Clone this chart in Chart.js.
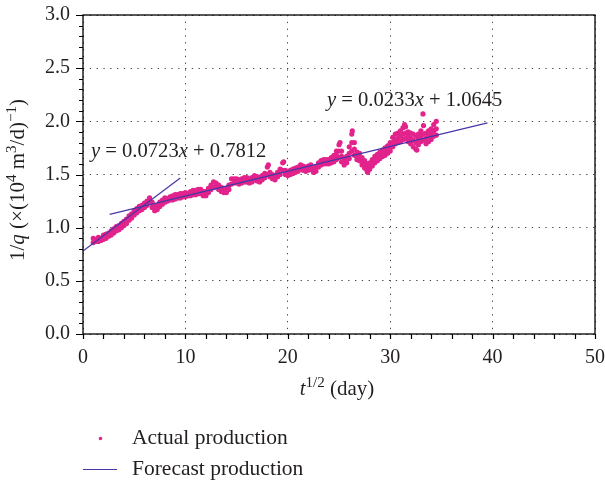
<!DOCTYPE html>
<html>
<head>
<meta charset="utf-8">
<script src="https://cdn.jsdelivr.net/npm/chart.js@4.4.1/dist/chart.umd.min.js"></script>
<style>
html,body{margin:0;padding:0;background:#fff;}
#wrap{width:605px;height:481px;position:relative;}
</style>
</head>
<body>
<div id="wrap"><canvas id="c" width="605" height="481"></canvas></div>
<script>
// ---- Data ----
const xTicks = [0, 10, 20, 30, 40, 50];
const yTicks = [0.0, 0.5, 1.0, 1.5, 2.0, 2.5, 3.0];

const sampleX = [
 1.00,1.25,1.50,1.75, 2.00,2.25,2.50,2.75, 3.00,3.25,3.50,3.75, 4.00,4.25,4.50,4.75,
 5.00,5.25,5.50,5.75, 6.00,6.25,6.50,6.75, 7.00,7.25,7.50,7.75, 8.00,8.25,8.50,8.75,
 9.00,9.25,9.50,9.75, 10.00,10.25,10.50,10.75, 11.00,11.25,11.50,11.75, 12.00,12.25,12.50,12.75,
 13.00,13.25,13.50,13.75, 14.00,14.25,14.50,14.75, 15.00,15.25,15.50,15.75, 16.00,16.25,16.50,16.75,
 17.00,17.25,17.50,17.75, 18.00,18.25,18.50,18.75, 19.00,19.25,19.50,19.75, 20.00,20.25,20.50,20.75,
 21.00,21.25,21.50,21.75, 22.00,22.25,22.50,22.75, 23.00,23.25,23.50,23.75, 24.00,24.25,24.50,24.75,
 25.00,25.25,25.50,25.75, 26.00,26.25,26.50,26.75, 27.00,27.25,27.50,27.75, 28.00,28.25,28.50,28.75,
 29.00,29.25,29.50,29.75, 30.00,30.25,30.50,30.75, 31.00,31.25,31.50,31.75, 32.00,32.25,32.50,32.75,
 33.00,33.25,33.50,33.75, 34.00,34.25,34.50
];
const actualUpper = [
 0.90,0.89,0.91,0.90, 0.93,0.94,0.95,0.97, 0.99,1.01,1.02,1.04, 1.06,1.08,1.11,1.13,
 1.16,1.18,1.20,1.21, 1.23,1.25,1.28,1.24, 1.20,1.21,1.24,1.26, 1.28,1.27,1.29,1.30,
 1.31,1.31,1.32,1.32, 1.33,1.32,1.34,1.35, 1.35,1.36,1.36,1.34, 1.34,1.37,1.40,1.43,
 1.42,1.40,1.38,1.37, 1.37,1.40,1.46,1.46, 1.46,1.45,1.46,1.47, 1.47,1.46,1.47,1.49,
 1.48,1.47,1.49,1.51, 1.57,1.52,1.50,1.49, 1.52,1.55,1.61,1.54, 1.53,1.54,1.55,1.56,
 1.57,1.59,1.58,1.57, 1.58,1.59,1.56,1.57, 1.61,1.63,1.64,1.64, 1.64,1.66,1.68,1.72,
 1.78,1.72,1.65,1.67, 1.76,1.88,1.80,1.71, 1.70,1.66,1.63,1.60, 1.61,1.64,1.67,1.69,
 1.71,1.73,1.75,1.77, 1.80,1.85,1.88,1.89, 1.91,1.94,1.95,1.90, 1.89,1.88,1.86,1.88,
 1.91,1.96,1.89,1.91, 1.93,1.97,2.00
];
const actualLower = [
 0.86,0.87,0.87,0.88, 0.89,0.90,0.92,0.93, 0.95,0.97,0.98,1.00, 1.02,1.04,1.07,1.09,
 1.12,1.14,1.16,1.17, 1.19,1.21,1.24,1.19, 1.16,1.17,1.20,1.22, 1.24,1.25,1.26,1.26,
 1.27,1.28,1.28,1.29, 1.29,1.30,1.30,1.31, 1.31,1.32,1.32,1.30, 1.30,1.33,1.36,1.38,
 1.38,1.36,1.34,1.33, 1.33,1.36,1.41,1.42, 1.42,1.41,1.42,1.43, 1.43,1.42,1.43,1.45,
 1.44,1.43,1.45,1.47, 1.50,1.48,1.46,1.45, 1.48,1.50,1.54,1.50, 1.49,1.50,1.51,1.52,
 1.53,1.55,1.54,1.53, 1.54,1.55,1.52,1.53, 1.57,1.59,1.60,1.60, 1.60,1.61,1.62,1.64,
 1.66,1.62,1.59,1.61, 1.65,1.72,1.68,1.64, 1.63,1.59,1.56,1.53, 1.55,1.58,1.61,1.63,
 1.65,1.67,1.68,1.70, 1.72,1.76,1.79,1.80, 1.81,1.83,1.84,1.81, 1.79,1.76,1.74,1.78,
 1.81,1.82,1.79,1.81, 1.83,1.86,1.87
];
const midX = [
 24.50,24.75, 25.00,25.25,25.50,25.75, 26.00,26.25,26.50,26.75, 27.00,27.25,27.50,27.75,
 28.00,28.25,28.50,28.75, 29.00,29.25,29.50,29.75, 30.00,30.25,30.50,30.75, 31.00,31.25,31.50,31.75,
 32.00,32.25,32.50,32.75, 33.00,33.25,33.50,33.75, 34.00,34.25,34.50
];
const midY = [
 1.65,1.68, 1.72,1.67,1.62,1.64, 1.70,1.80,1.74,1.68, 1.66,1.62,1.59,1.56,
 1.58,1.61,1.64,1.66, 1.68,1.70,1.71,1.73, 1.76,1.80,1.83,1.84, 1.86,1.88,1.89,1.86,
 1.84,1.82,1.80,1.83, 1.86,1.88,1.84,1.86, 1.88,1.91,1.93
];
const outlierX = [26.3, 33.2, 31.4, 32.6, 18.1, 25.1, 27.8, 19.6];
const outlierY = [1.91, 2.07, 1.97, 1.73, 1.59, 1.80, 1.52, 1.62];

// forecast fits: y = slope * x + intercept over [xFrom, xTo]
const fitSlope = [0.0723, 0.0233];
const fitIntercept = [0.7812, 1.0645];
const fitFrom = [0, 2.6];
const fitTo = [9.5, 39.5];

const PINK = '#e2238c';
const BLUE = '#4637a6';
const FONT = '"Liberation Serif", "Times New Roman", serif';
const TXT = '#231f20';

const actualPts = [];
sampleX.forEach((x, i) => { actualPts.push({x, y: actualUpper[i]}); actualPts.push({x, y: actualLower[i]}); });
midX.forEach((x, i) => actualPts.push({x, y: midY[i]}));
outlierX.forEach((x, i) => actualPts.push({x, y: outlierY[i]}));

const fitData = fitSlope.map((m, k) => [
  {x: fitFrom[k], y: m * fitFrom[k] + fitIntercept[k]},
  {x: fitTo[k], y: m * fitTo[k] + fitIntercept[k]}
]);

function fontFor(p, size) {
  const s = p.s ? size * 0.72 : size;
  return (p.i ? 'italic ' : '') + s + 'px ' + FONT;
}
function drawRich(ctx, parts, x, y, size, align) {
  const widths = parts.map(p => { ctx.font = fontFor(p, size); return ctx.measureText(p.t).width; });
  const total = widths.reduce((a, b) => a + b, 0);
  let cx = align === 'center' ? x - total / 2 : x;
  ctx.textAlign = 'left';
  ctx.textBaseline = 'alphabetic';
  parts.forEach((p, i) => {
    ctx.font = fontFor(p, size);
    ctx.fillText(p.t, cx, y + (p.s ? -size * 0.38 : 0));
    cx += widths[i];
  });
}

const decor = {
  id: 'decor',
  afterDraw(chart) {
    const ctx = chart.ctx;
    const a = chart.chartArea;
    const xs = chart.scales.x, ys = chart.scales.y;
    ctx.save();
    // frame
    ctx.strokeStyle = '#000';
    ctx.lineWidth = 1.3;
    ctx.strokeRect(a.left, a.top, a.right - a.left, a.bottom - a.top);
    // x ticks (outward), every 2
    ctx.lineWidth = 1.2;
    ctx.beginPath();
    for (let v = 0; v <= 50; v += 2) {
      const px = Math.round(xs.getPixelForValue(v)) + 0.5;
      ctx.moveTo(px, a.bottom); ctx.lineTo(px, a.bottom + 5);
    }
    // y ticks (outward), every 0.1; major longer
    for (let k = 0; k <= 30; k++) {
      const py = Math.round(ys.getPixelForValue(k / 10)) + 0.5;
      const len = (k % 5 === 0) ? 7 : 4;
      ctx.moveTo(a.left, py); ctx.lineTo(a.left - len, py);
    }
    ctx.stroke();

    ctx.fillStyle = TXT;
    // equations
    drawRich(ctx, [{t:'y', i:1},{t:' = 0.0723'},{t:'x', i:1},{t:' + 0.7812'}], 91, 157, 20.6, 'left');
    drawRich(ctx, [{t:'y', i:1},{t:' = 0.0233'},{t:'x', i:1},{t:' + 1.0645'}], 327, 106, 20.6, 'left');
    // x title
    drawRich(ctx, [{t:'t', i:1},{t:'1/2', s:1},{t:' (day)'}], 337, 395, 21, 'center');
    // y title
    ctx.save();
    ctx.translate(24, 180);
    ctx.rotate(-Math.PI / 2);
    drawRich(ctx, [{t:'1/'},{t:'q', i:1},{t:' (×(10'},{t:'4', s:1},{t:' m'},{t:'3', s:1},{t:'/d)'},{t:'−1', s:1},{t:')'}], 0, 0, 21, 'center');
    ctx.restore();
    // legend
    ctx.fillStyle = PINK;
    ctx.beginPath(); ctx.arc(100.5, 438.5, 1.8, 0, Math.PI * 2); ctx.fill();
    ctx.strokeStyle = BLUE; ctx.lineWidth = 1.2;
    ctx.beginPath(); ctx.moveTo(83, 469.5); ctx.lineTo(117, 469.5); ctx.stroke();
    ctx.fillStyle = TXT;
    ctx.font = '21.5px ' + FONT;
    ctx.textAlign = 'left'; ctx.textBaseline = 'alphabetic';
    ctx.fillText('Actual production', 132, 444);
    ctx.fillText('Forecast production', 132, 475);
    ctx.restore();
  }
};

new Chart(document.getElementById('c'), {
  type: 'scatter',
  plugins: [decor],
  data: {
    datasets: [
      { label: 'Forecast production', type: 'line', data: fitData[0], borderColor: BLUE, borderWidth: 1.2,
        pointRadius: 0, fill: false, order: 0 },
      { label: 'Forecast production 2', type: 'line', data: fitData[1], borderColor: BLUE, borderWidth: 1.2,
        pointRadius: 0, fill: false, order: 0 },
      { label: 'Actual production', data: actualPts, backgroundColor: PINK, borderColor: PINK,
        pointRadius: 2.6, borderWidth: 0, order: 1 }
    ]
  },
  options: {
    responsive: false,
    animation: false,
    layout: { padding: { left: 0, right: 10, top: 15, bottom: 0 } },
    plugins: { legend: { display: false }, tooltip: { enabled: false } },
    scales: {
      x: {
        type: 'linear', min: 0, max: 50,
        afterFit(s) { s.height = 147; s.paddingLeft = 0; s.paddingRight = 0; },
        afterBuildTicks(s) { s.ticks = xTicks.map(v => ({value: v})); },
        ticks: { color: TXT, font: { family: FONT, size: 20 }, padding: 12, maxRotation: 0 },
        grid: { color: '#444', lineWidth: 1, drawTicks: false },
        border: { display: false, dash: [1.3, 5.5] }
      },
      y: {
        type: 'linear', min: 0, max: 3,
        afterFit(s) { s.width = 83; s.paddingTop = 0; s.paddingBottom = 0; },
        afterBuildTicks(s) { s.ticks = yTicks.map(v => ({value: v})); },
        ticks: { color: TXT, font: { family: FONT, size: 20 }, padding: 13,
                 callback: v => Number(v).toFixed(1) },
        grid: { color: '#444', lineWidth: 1, drawTicks: false },
        border: { display: false, dash: [1.3, 5.5] }
      }
    }
  }
});
</script>
</body>
</html>
